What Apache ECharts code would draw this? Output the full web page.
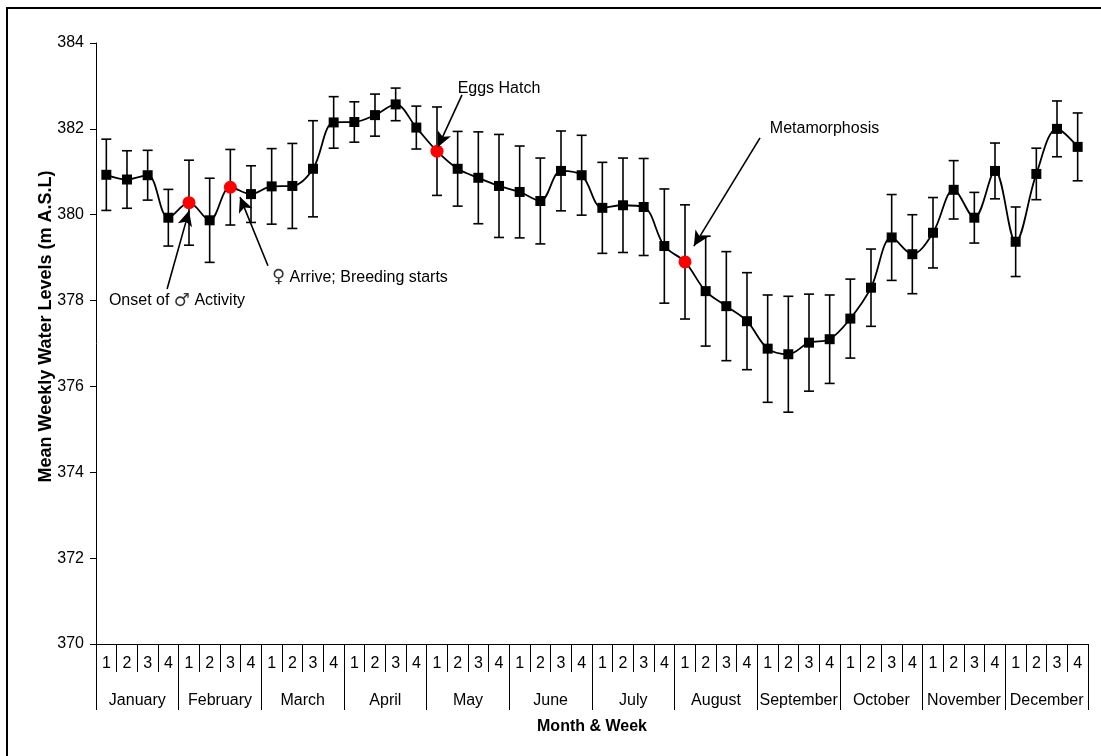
<!DOCTYPE html>
<html>
<head>
<meta charset="utf-8">
<script src="https://cdn.jsdelivr.net/npm/echarts@6/dist/echarts.min.js"></script>
<style>
  html, body { margin: 0; padding: 0; background: #fff; }
  #chart { width: 1101px; height: 756px; }
</style>
</head>
<body>
<div id="chart"></div>
<script>
// Months and the four weeks inside each month
const months = ['January', 'February', 'March', 'April', 'May', 'June',
  'July', 'August', 'September', 'October', 'November', 'December'];
const weekNumbers = ['1', '2', '3', '4'];

// Mean weekly water level (m A.S.L), one value per week, January week 1 onward
const levels = [
  380.93, 380.82, 380.92, 379.93,
  380.28, 379.87, 380.64, 380.48,
  380.66, 380.67, 381.07, 382.15,
  382.16, 382.32, 382.57, 382.03,
  381.48, 381.07, 380.86, 380.67,
  380.53, 380.32, 381.02, 380.92,
  380.16, 380.22, 380.18, 379.27,
  378.90, 378.22, 377.87, 377.52,
  376.88, 376.75, 377.02, 377.10,
  377.58, 378.30, 379.47, 379.08,
  379.58, 380.58, 379.93, 381.02,
  379.37, 380.95, 382.00, 381.58
];

// Half-length of each week's error bar (m)
const errors = [
  0.83, 0.67, 0.58, 0.66,
  0.99, 0.98, 0.88, 0.66,
  0.88, 0.99, 1.12, 0.60,
  0.47, 0.49, 0.38, 0.50,
  1.03, 0.87, 1.07, 1.20,
  1.07, 1.00, 0.93, 0.93,
  1.06, 1.10, 1.13, 1.33,
  1.33, 1.28, 1.27, 1.13,
  1.25, 1.35, 1.13, 1.03,
  0.92, 0.90, 1.00, 0.92,
  0.82, 0.68, 0.59, 0.65,
  0.81, 0.60, 0.65, 0.79
];

// Weeks (index from 0) marked as life-cycle events
const eventWeeks = [4, 6, 16, 28];

// Event notes: text centre and arrow tail/head in (week index, level) units
const noteTexts = ['Onset of {s|\u2642} Activity', '{s|\u2640} Arrive; Breeding starts', 'Eggs Hatch', 'Metamorphosis'];
const noteTextAt = [[3.42, 377.99], [12.27, 378.53], [19.0, 382.93], [34.75, 382.0]];
const noteArrowFrom = [[2.94, 378.27], [7.82, 378.81], [17.21, 382.79], [31.63, 381.79]];
const noteArrowTo = [[4.0, 380.09], [6.47, 380.41], [16.05, 381.58], [28.43, 379.27]];

const weekLabels = [];
months.forEach(() => weekNumbers.forEach(w => weekLabels.push(w)));

const FONT = "'Liberation Sans', Arial, 'DejaVu Sans', sans-serif";

const lineData = levels.map((v, i) => {
  if (eventWeeks.includes(i)) {
    return { value: [i, v], symbol: 'circle', symbolSize: 13, itemStyle: { color: '#ff0000' } };
  }
  return { value: [i, v] };
});
const barData = levels.map((v, i) => [i, v, errors[i]]);

const chart = echarts.init(document.getElementById('chart'), null, { renderer: 'canvas' });

chart.setOption({
  animation: false,
  backgroundColor: '#ffffff',
  textStyle: { fontFamily: FONT },
  graphic: [{
    type: 'rect',
    shape: { x: 7, y: 8, width: 1110, height: 770 },
    style: { fill: 'none', stroke: '#000', lineWidth: 2 },
    silent: true,
    z: 100
  }],
  grid: { left: 96, right: 13, top: 43, bottom: 112, containLabel: false },
  xAxis: [
    {
      type: 'category',
      data: weekLabels,
      position: 'bottom',
      boundaryGap: true,
      axisLine: { show: true, onZero: false, lineStyle: { color: '#000', width: 1 } },
      axisTick: { show: true, interval: 0, length: 28, lineStyle: { color: '#000', width: 1 } },
      axisLabel: { interval: 0, margin: 12, color: '#000', fontSize: 16, fontFamily: FONT },
      splitLine: { show: false }
    },
    {
      type: 'category',
      data: months,
      position: 'bottom',
      boundaryGap: true,
      name: 'Month & Week',
      nameLocation: 'middle',
      nameGap: 75,
      nameMoveOverlap: false,
      nameTextStyle: { color: '#000', fontSize: 16, fontWeight: 'bold', fontFamily: FONT },
      axisLine: { show: false, onZero: false },
      axisTick: { show: true, interval: 0, length: 66, lineStyle: { color: '#000', width: 1 } },
      axisLabel: { interval: 0, margin: 49, color: '#000', fontSize: 16, fontFamily: FONT },
      splitLine: { show: false }
    },
    {
      type: 'value',
      min: -0.5,
      max: 47.5,
      show: false
    }
  ],
  yAxis: {
    type: 'value',
    min: 370,
    max: 384,
    interval: 2,
    name: 'Mean Weekly Water Levels (m A.S.L)',
    nameLocation: 'middle',
    nameGap: 41,
    nameMoveOverlap: false,
    nameTextStyle: {
      color: '#000', fontSize: 18, fontWeight: 'bold', fontFamily: FONT,
      padding: [0, 0, 0, 34]
    },
    axisLine: { show: true, onZero: false, lineStyle: { color: '#000', width: 1 } },
    axisTick: { show: true, length: 6, lineStyle: { color: '#000', width: 1 } },
    axisLabel: { margin: 12, color: '#000', fontSize: 16, fontFamily: FONT },
    splitLine: { show: false }
  },
  series: [
    {
      // vertical error bars with caps
      type: 'custom',
      xAxisIndex: 2,
      data: barData,
      z: 1,
      silent: true,
      renderItem: function (params, api) {
        const x = api.value(0), y = api.value(1), e = api.value(2);
        const top = api.coord([x, y + e]);
        const bot = api.coord([x, y - e]);
        const hw = 5;
        const style = { stroke: '#000', lineWidth: 1.6, fill: 'none' };
        return {
          type: 'group',
          children: [
            { type: 'line', shape: { x1: top[0], y1: top[1], x2: bot[0], y2: bot[1] }, style: style },
            { type: 'line', shape: { x1: top[0] - hw, y1: top[1], x2: top[0] + hw, y2: top[1] }, style: style },
            { type: 'line', shape: { x1: bot[0] - hw, y1: bot[1], x2: bot[0] + hw, y2: bot[1] }, style: style }
          ]
        };
      }
    },
    {
      type: 'line',
      xAxisIndex: 2,
      data: lineData,
      smooth: 0.35,
      symbol: 'rect',
      symbolSize: 10,
      showAllSymbol: true,
      z: 3,
      lineStyle: { color: '#000', width: 1.8 },
      itemStyle: { color: '#000' },
      markLine: {
        silent: true,
        symbol: ['none', 'arrow'],
        symbolSize: [11, 15],
        lineStyle: { color: '#000', width: 1.6, type: 'solid' },
        label: { show: false },
        data: noteArrowFrom.map((p, i) => [{ coord: p }, { coord: noteArrowTo[i] }])
      },
      markPoint: {
        silent: true,
        symbol: 'rect',
        symbolSize: 0,
        label: {
          show: true,
          position: 'inside',
          color: '#000',
          fontSize: 16,
          fontFamily: FONT,
          formatter: p => p.name,
          rich: {
            s: { fontFamily: "'DejaVu Sans', sans-serif", fontSize: 18, color: '#333' }
          }
        },
        data: noteTexts.map((t, i) => ({ name: t, coord: noteTextAt[i] }))
      }
    }
  ]
});
</script>
</body>
</html>
